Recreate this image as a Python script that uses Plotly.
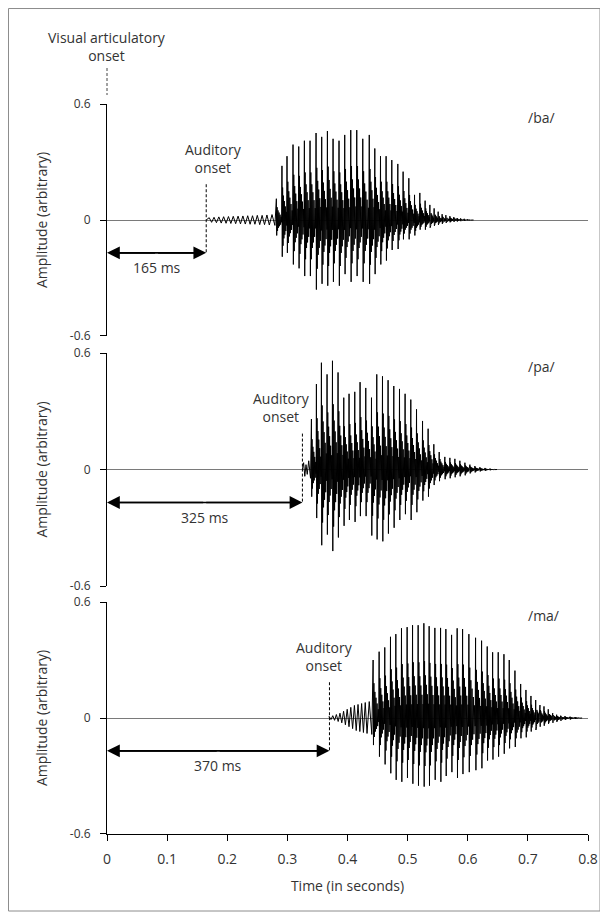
import plotly.graph_objects as go

# ---------------- data ----------------
panel_labels = ["/ba/", "/pa/", "/ma/"]
onset_ms = [165, 325, 370]

# low-level pre-voicing / burst / nasal murmur cycles: (time s, amplitude)
ba_pre_t = [0.168, 0.176, 0.184, 0.192, 0.200, 0.208, 0.216, 0.224, 0.232, 0.240, 0.248, 0.256, 0.264, 0.272]
ba_pre_amp = [0.012, 0.014, 0.016, 0.017, 0.018, 0.019, 0.020, 0.021, 0.022, 0.022, 0.024, 0.024, 0.026, 0.028]
pa_pre_t = [0.326, 0.330, 0.334]
pa_pre_amp = [0.035, 0.025, 0.045]
ma_pre_t = [0.368, 0.374, 0.380, 0.386, 0.392, 0.398, 0.404, 0.410, 0.416, 0.422, 0.428, 0.434]
ma_pre_amp = [0.008, 0.012, 0.018, 0.025, 0.035, 0.045, 0.055, 0.065, 0.070, 0.075, 0.080, 0.085]

# glottal pulses: time (s), positive peak, negative trough
ba_t = [0.2817, 0.2910, 0.2994, 0.3094, 0.3189, 0.3283, 0.3377, 0.3477, 0.3571, 0.3666,
        0.3760, 0.3859, 0.3954, 0.4054, 0.4154, 0.4254, 0.4362, 0.4454, 0.4549, 0.4642,
        0.4737, 0.4837, 0.4925, 0.5020, 0.5115, 0.5203, 0.5291, 0.5370, 0.5441, 0.5508,
        0.5574, 0.5636, 0.5703, 0.5769, 0.5824, 0.5880, 0.5940, 0.6000]
ba_pos = [0.11, 0.28, 0.33, 0.39, 0.38, 0.41, 0.41, 0.45, 0.43, 0.46,
          0.42, 0.41, 0.44, 0.465, 0.465, 0.42, 0.44, 0.37, 0.33, 0.33,
          0.31, 0.29, 0.25, 0.216, 0.13, 0.14, 0.10, 0.078, 0.06, 0.043,
          0.03, 0.025, 0.02, 0.015, 0.01, 0.008, 0.006, 0.004]
ba_neg = [-0.08, -0.19, -0.17, -0.23, -0.25, -0.29, -0.29, -0.36, -0.33, -0.34,
          -0.32, -0.34, -0.28, -0.32, -0.29, -0.32, -0.33, -0.28, -0.23, -0.21,
          -0.155, -0.15, -0.10, -0.10, -0.08, -0.05, -0.05, -0.04, -0.03, -0.025,
          -0.02, -0.015, -0.012, -0.01, -0.008, -0.006, -0.005, -0.003]

pa_t = [0.3400, 0.3483, 0.3566, 0.3660, 0.3750, 0.3843, 0.3938, 0.4026, 0.4121, 0.4209,
        0.4304, 0.4399, 0.4487, 0.4582, 0.4675, 0.4770, 0.4865, 0.4958, 0.5053, 0.5148,
        0.5248, 0.5341, 0.5436, 0.5525, 0.5619, 0.5703, 0.5786, 0.5869, 0.5953, 0.6036,
        0.6119, 0.6203, 0.6286, 0.6369]
pa_pos = [0.26, 0.44, 0.55, 0.49, 0.56, 0.50, 0.37, 0.39, 0.40, 0.45,
          0.42, 0.37, 0.49, 0.48, 0.46, 0.43, 0.415, 0.39, 0.36, 0.31,
          0.25, 0.21, 0.13, 0.09, 0.065, 0.06, 0.055, 0.045, 0.035, 0.025,
          0.018, 0.012, 0.008, 0.005]
pa_neg = [-0.14, -0.25, -0.39, -0.335, -0.42, -0.35, -0.29, -0.26, -0.27, -0.24,
          -0.24, -0.34, -0.36, -0.37, -0.33, -0.30, -0.26, -0.23, -0.26, -0.22,
          -0.16, -0.14, -0.08, -0.06, -0.05, -0.045, -0.04, -0.035, -0.03, -0.02,
          -0.015, -0.01, -0.007, -0.004]

ma_t = [0.4426, 0.4526, 0.4620, 0.4715, 0.4804, 0.4898, 0.4992, 0.5082, 0.5175, 0.5270,
        0.5358, 0.5453, 0.5548, 0.5636, 0.5731, 0.5824, 0.5914, 0.6019, 0.6130, 0.6230,
        0.6324, 0.6414, 0.6507, 0.6602, 0.6690, 0.6785, 0.6880, 0.6968, 0.7051, 0.7130,
        0.7201, 0.7268, 0.7339, 0.7413, 0.7479, 0.7546, 0.7617, 0.7701, 0.7784]
ma_pos = [0.30, 0.343, 0.365, 0.42, 0.434, 0.464, 0.47, 0.48, 0.48, 0.49,
          0.475, 0.466, 0.466, 0.46, 0.43, 0.464, 0.46, 0.434, 0.415, 0.40,
          0.37, 0.34, 0.34, 0.33, 0.30, 0.245, 0.176, 0.145, 0.114, 0.093,
          0.067, 0.06, 0.045, 0.025, 0.017, 0.012, 0.01, 0.007, 0.005]
ma_neg = [-0.14, -0.20, -0.24, -0.286, -0.32, -0.33, -0.31, -0.34, -0.35, -0.355,
          -0.35, -0.32, -0.33, -0.30, -0.28, -0.31, -0.29, -0.28, -0.27, -0.26,
          -0.22, -0.215, -0.20, -0.185, -0.157, -0.15, -0.105, -0.10, -0.07, -0.062,
          -0.045, -0.04, -0.03, -0.025, -0.02, -0.015, -0.01, -0.008, -0.005]

# shape of one glottal period (fraction of period, relative gain; even = up, odd = down)
pulse_phase = [0.0, 0.06, 0.13, 0.21, 0.29, 0.38, 0.47, 0.56, 0.66, 0.76, 0.86, 0.94]
pulse_gain = [1.0, 1.0, 0.6, 0.7, 0.45, 0.5, 0.35, 0.4, 0.25, 0.3, 0.15, 0.15]

x_ticks = [0, 0.1, 0.2, 0.3, 0.4, 0.5, 0.6, 0.7, 0.8]
x_ticktext = ["0", "0.1", "0.2", "0.3", "0.4", "0.5", "0.6", "0.7", "0.8"]
y_ticks = [-0.6, 0, 0.6]
y_ticktext = ["-0.6", "0", "0.6"]

# ---------------- build waveform paths ----------------
def waveform(onset, pre_t, pre_amp, t, pos, neg):
    xs, ys = [onset], [0.0]
    for i, (tt, a) in enumerate(zip(pre_t, pre_amp)):
        nxt = pre_t[i + 1] if i + 1 < len(pre_t) else t[0]
        p = nxt - tt
        xs += [tt + 0.25 * p, tt + 0.75 * p]
        ys += [a, -a]
    for i in range(len(t)):
        p = (t[i + 1] - t[i]) if i + 1 < len(t) else (t[i] - t[i - 1])
        for k, (ph, g) in enumerate(zip(pulse_phase, pulse_gain)):
            xs.append(t[i] + ph * p)
            ys.append((pos[i] if k % 2 == 0 else neg[i]) * g)
    xs.append(xs[-1] + 0.004)
    ys.append(0.0)
    return xs, ys

series = [
    (ba_pre_t, ba_pre_amp, ba_t, ba_pos, ba_neg),
    (pa_pre_t, pa_pre_amp, pa_t, pa_pos, pa_neg),
    (ma_pre_t, ma_pre_amp, ma_t, ma_pos, ma_neg),
]

FONT = "Open Sans"
TXT = "#333333"

fig = go.Figure()
domains = [[0.6822, 1.0], [0.3397, 0.6589], [0.0, 0.3178]]
annotations = []
shapes = []
layout_axes = {}
ARROW_Y = -0.17

for i, (pre_t, pre_amp, t, pos, neg) in enumerate(series):
    n = "" if i == 0 else str(i + 1)
    onset = onset_ms[i] / 1000.0
    xs, ys = waveform(onset, pre_t, pre_amp, t, pos, neg)
    fig.add_trace(go.Scatter(x=xs, y=ys, mode="lines", xaxis="x" + n, yaxis="y" + n,
                             line=dict(color="black", width=1), showlegend=False,
                             hoverinfo="skip"))
    last = i == 2
    layout_axes["xaxis" + n] = dict(
        domain=[0, 1], range=[0, 0.8], anchor="y" + n, showgrid=False, zeroline=False,
        showline=last, linecolor="black", linewidth=1,
        ticks="outside" if last else "", ticklen=6, tickcolor="black",
        tickvals=x_ticks, ticktext=x_ticktext, showticklabels=last,
        tickfont=dict(family=FONT, size=14, color=TXT), ticklabelstandoff=6,
        title=dict(text="Time (in seconds)" if last else "",
                   font=dict(family=FONT, size=14, color=TXT), standoff=14),
        fixedrange=True,
    )
    layout_axes["yaxis" + n] = dict(
        domain=domains[i], range=[-0.6, 0.6], anchor="x" + n, showgrid=False,
        zeroline=True, zerolinecolor="#7a7a7a", zerolinewidth=1,
        showline=True, linecolor="black", linewidth=1,
        ticks="outside", ticklen=6, tickcolor="black",
        tickvals=y_ticks, ticktext=y_ticktext,
        tickfont=dict(family=FONT, size=12, color=TXT), ticklabelstandoff=7,
        title=dict(text="Amplitude (arbitrary)", font=dict(family=FONT, size=14, color=TXT),
                   standoff=18),
        fixedrange=True,
    )
    # panel label
    annotations.append(dict(x=0.697, y=0.53, xref="x" + n, yref="y" + n, text=panel_labels[i],
                            showarrow=False, xanchor="left", yanchor="middle",
                            font=dict(family=FONT, size=14, color=TXT)))
    # auditory onset label
    label_dx = [0.012, -0.035, -0.008][i]
    annotations.append(dict(x=onset + label_dx, y=0.32, xref="x" + n, yref="y" + n,
                            text="Auditory<br>onset", showarrow=False,
                            xanchor="center", yanchor="middle",
                            font=dict(family=FONT, size=14, color=TXT)))
    # dashed onset marker
    shapes.append(dict(type="line", xref="x" + n, yref="y" + n, x0=onset, x1=onset,
                       y0=0.185, y1=ARROW_Y, line=dict(color="black", width=1, dash="3px,2px")))
    # double-headed arrow: shaft + two heads
    shapes.append(dict(type="line", xref="x" + n, yref="y" + n, x0=0.004, x1=onset - 0.004,
                       y0=ARROW_Y, y1=ARROW_Y, line=dict(color="black", width=1.6)))
    mid = onset / 2
    for head in (0.0, onset):
        annotations.append(dict(x=head, y=ARROW_Y, ax=mid, ay=ARROW_Y, xref="x" + n, yref="y" + n,
                                axref="x" + n, ayref="y" + n, text="", showarrow=True,
                                arrowhead=2, arrowsize=1.6, arrowwidth=1.6, arrowcolor="black",
                                standoff=0, startstandoff=0))
    annotations.append(dict(x=mid, y=-0.245, xref="x" + n, yref="y" + n,
                            text=f"{onset_ms[i]} ms", showarrow=False,
                            xanchor="center", yanchor="middle",
                            font=dict(family=FONT, size=14, color=TXT)))

# visual articulatory onset (above the top panel)
annotations.append(dict(x=0, y=1.0786, xref="paper", yref="paper",
                        text="Visual articulatory<br>onset", showarrow=False,
                        xanchor="center", yanchor="middle",
                        font=dict(family=FONT, size=14, color=TXT)))
shapes.append(dict(type="line", xref="paper", yref="paper", x0=0, x1=0, y0=1.0493, y1=1.0123,
                   line=dict(color="#444444", width=1, dash="3px,2px")))
# outer frame (page body adds an 8 px offset; figure is 600x907)
shapes.append(dict(type="rect", xref="paper", yref="paper", x0=-0.2048, x1=1.025,
                   y0=-0.1055, y1=1.1308, line=dict(color="#8c8c8c", width=1)))

fig.update_layout(
    width=600, height=907, template="none",
    margin=dict(l=99, r=20, t=96, b=81),
    paper_bgcolor="white", plot_bgcolor="white",
    annotations=annotations, shapes=shapes, showlegend=False,
    **layout_axes,
)

fig.write_html("out.html")
